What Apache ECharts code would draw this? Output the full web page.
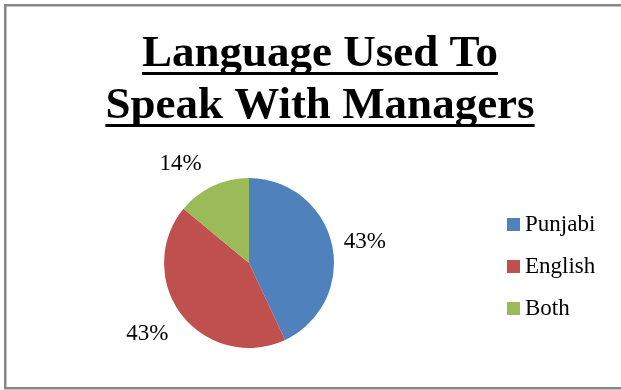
<!DOCTYPE html>
<html>
<head>
<meta charset="utf-8">
<style>
  html, body { margin: 0; padding: 0; background: #ffffff; }
  #chart { width: 621px; height: 390px; }
</style>
<script src="https://cdn.jsdelivr.net/npm/echarts@6/dist/echarts.min.js"></script>
</head>
<body>
<div id="chart"></div>
<script>
// Survey answers: language used to speak with managers (percent of respondents)
const categories = ['Punjabi', 'English', 'Both'];
const shares = [43, 43, 14];
const titleLines = ['Language Used To', 'Speak With Managers'];
const sliceColors = ['#4F81BD', '#C0504D', '#9BBB59'];

const serif = '"Liberation Serif", "Times New Roman", serif';
const titleFontSize = 45;

// width of a title line, so the underline spans the text exactly
function textWidth(str) {
  const ctx = document.createElement('canvas').getContext('2d');
  ctx.font = 'bold ' + titleFontSize + 'px ' + serif;
  return ctx.measureText(str).width;
}

const titleCenterX = 320;
const titleMidY = [54, 106];
const titleGraphics = [];
titleLines.forEach(function (line, i) {
  titleGraphics.push({
    type: 'text',
    x: titleCenterX,
    y: titleMidY[i],
    style: {
      text: line,
      fill: '#000',
      font: 'bold ' + titleFontSize + 'px ' + serif,
      align: 'center',
      verticalAlign: 'middle'
    }
  });
  const w = textWidth(line);
  titleGraphics.push({
    type: 'rect',
    shape: { x: titleCenterX - w / 2, y: titleMidY[i] + 18, width: w, height: 3 },
    style: { fill: '#000' }
  });
});

// label nudges so the percentages sit where the text layout puts them
const labelNudge = [[0, 0], [-4, 12], [-6, -11]];

const chart = echarts.init(document.getElementById('chart'), null, { renderer: 'canvas' });
chart.setOption({
  backgroundColor: '#ffffff',
  animation: false,
  color: sliceColors,
  graphic: [
    {
      type: 'rect',
      shape: { x: 5.25, y: 5.25, width: 640, height: 383 },
      style: { fill: 'none', stroke: '#878787', lineWidth: 2.5 },
      z: 10
    }
  ].concat(titleGraphics),
  legend: {
    orient: 'vertical',
    left: 507,
    top: 213,
    padding: 0,
    icon: 'rect',
    itemWidth: 13,
    itemHeight: 13,
    itemGap: 19,
    selectedMode: false,
    data: categories,
    textStyle: { fontFamily: serif, fontSize: 23, lineHeight: 23, color: '#000' }
  },
  series: [
    {
      type: 'pie',
      center: [249, 263],
      radius: 85,
      startAngle: 90,
      clockwise: true,
      avoidLabelOverlap: false,
      data: categories.map(function (name, i) {
        return { name: name, value: shares[i] };
      }),
      label: {
        show: true,
        position: 'outside',
        formatter: function (p) { return p.value + '%'; },
        fontFamily: serif,
        fontSize: 23,
        color: '#000',
        distanceToLabelLine: 0
      },
      labelLine: { show: false, length: 12, length2: 0 },
      labelLayout: function (params) {
        const n = labelNudge[params.dataIndex];
        return { dx: n[0], dy: n[1] };
      },
      itemStyle: { borderWidth: 0 },
      emphasis: { disabled: true }
    }
  ]
});
</script>
</body>
</html>
